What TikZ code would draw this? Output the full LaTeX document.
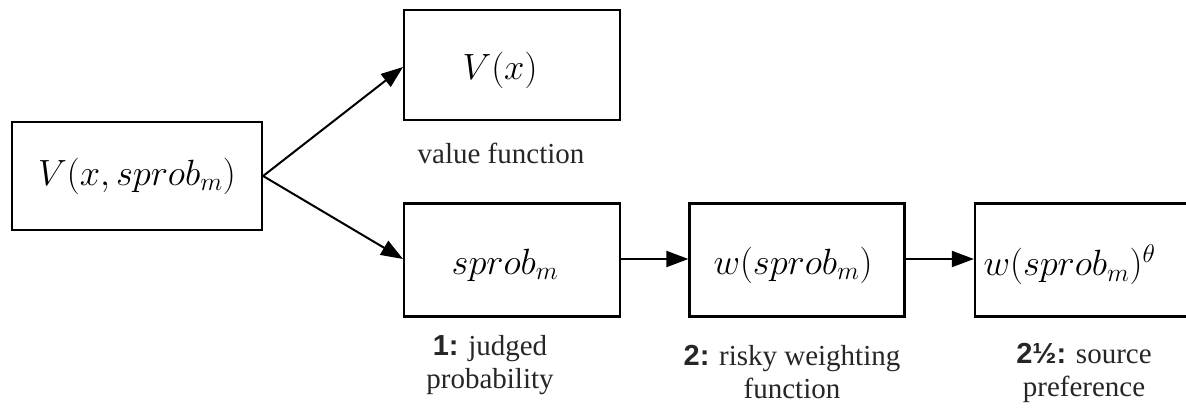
\documentclass[tikz,border=0pt]{standalone}
\usepackage{fix-cm}
\usepackage{fontspec}
\setmainfont{Liberation Serif}
\newfontfamily\lsans{Liberation Sans}
\usetikzlibrary{arrows.meta}
\begin{document}
\begin{tikzpicture}[x=1pt,y=-1pt,
  boxn/.style={draw,line width=2.2pt,minimum width=#1,minimum height=111pt,inner sep=0pt,fill=white},
  mathtxt/.style={font=\fontsize{36.5}{42}\selectfont},
  lbl/.style={font=\fontsize{29}{33}\selectfont,align=center,text=black!85},
  arr/.style={line width=2pt,-{Triangle[length=22pt,width=16pt]}}]
\clip (0,0) rectangle (1186,407);
\useasboundingbox (0,0) rectangle (1186,407);
\node[boxn=250pt,minimum height=108pt] (a) at (137,176) {};
\node[mathtxt] at (a.center) {$V(x,sprob_m)$};
\node[boxn=216pt,minimum height=110pt] (v) at (512,65) {};
\node[mathtxt] at (500,70) {$V(x)$};
\node[boxn=216pt,minimum height=113pt] (s) at (512,260) {};
\node[mathtxt] at (505,265) {$sprob_m$};
\node[boxn=215pt,minimum height=113pt] (w) at (797,260) {};
\node[mathtxt] at (793,265) {$w(sprob_m)$};
\node[boxn=240pt,minimum height=113pt] (t) at (1095,260) {};
\node[mathtxt,anchor=west] at (980,265) {$w(sprob_m)^\theta$};
\coordinate (vin) at (403,67);
\coordinate (sin) at (403,259);
\draw[arr] (a.east) -- (vin);
\draw[arr] (a.east) -- (sin);
\draw[arr] (s.east |- 0,259) -- (w.west |- 0,259);
\draw[arr] (w.east |- 0,259) -- (t.west |- 0,259);
\node[lbl] (lv) at (501,153) {value function};
\node[lbl] (l1) at (490,365) {{\lsans\bfseries 1:} judged\\probability};
\node[lbl] (l2) at (792,372) {{\lsans\bfseries 2:} risky weighting\\function};
\node[lbl] (l3) at (1084,373) {{\lsans\bfseries 2\textonehalf:} source\\preference};
\end{tikzpicture}
\end{document}
